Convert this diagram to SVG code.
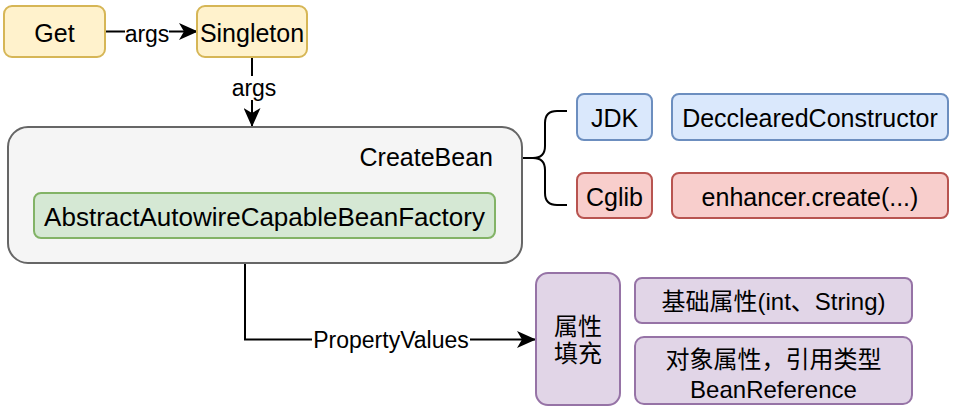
<svg xmlns="http://www.w3.org/2000/svg" width="961" height="414" viewBox="0 0 961 414">
<defs>
<marker id="arr" markerUnits="userSpaceOnUse" markerWidth="19" markerHeight="17" viewBox="0 0 19 17" refX="18" refY="8.5" orient="auto">
<path d="M0,0 L19,8.5 L0,17 L5,8.5 Z" fill="#000"/>
</marker>
<style>
text{font-family:"Liberation Sans","Noto Sans CJK SC",sans-serif;fill:#000;text-anchor:middle;dominant-baseline:central}
.n{font-size:25px}
.l{font-size:23px}
.c{font-size:24px}
.yel{fill:#fff2cc;stroke:#d6b656;stroke-width:2}
.gry{fill:#f5f5f5;stroke:#666666;stroke-width:2}
.grn{fill:#d5e8d4;stroke:#82b366;stroke-width:2}
.blu{fill:#dae8fc;stroke:#6c8ebf;stroke-width:2}
.red{fill:#f8cecc;stroke:#b85450;stroke-width:2}
.pur{fill:#e1d5e7;stroke:#9673a6;stroke-width:2}
.e{fill:none;stroke:#000;stroke-width:2}
.lb{fill:#fff;stroke:none}
</style>
</defs>
<rect width="961" height="414" fill="#fff"/>
<g id="connectors">
<path class="e" d="M105 31.5 H197" marker-end="url(#arr)"/>
<rect class="lb" x="125" y="22" width="44" height="24"/>
<text class="l" x="147" y="34">args</text>
<path class="e" d="M252 58 V126" marker-end="url(#arr)"/>
<rect class="lb" x="230" y="76" width="46" height="24"/>
<text class="l" x="254" y="88">args</text>
<path class="e" d="M245 264 V339.5 H535" marker-end="url(#arr)"/>
<rect class="lb" x="312" y="328" width="158" height="24"/>
<text class="l" x="391" y="340">PropertyValues</text>
<path class="e" d="M567 111 H557 Q545 111 545 123 V146 Q545 158 533 158 H523 M533 158 Q545 158 545 170 V193 Q545 205 557 205 H567"/>
</g>
<g id="get">
<rect class="yel" x="4" y="6" width="101" height="51" rx="8"/>
<text class="n" x="54.5" y="33">Get</text>
</g>
<g id="singleton">
<rect class="yel" x="197" y="6" width="110" height="51" rx="8"/>
<text class="n" x="252" y="33">Singleton</text>
</g>
<g id="createbean">
<rect class="gry" x="8" y="127" width="514" height="136" rx="20"/>
<text class="n" x="493" y="157" style="text-anchor:end">CreateBean</text>
</g>
<g id="factory">
<rect class="grn" x="34" y="193" width="461" height="45" rx="7"/>
<text class="n" x="264.5" y="217" style="font-size:26px">AbstractAutowireCapableBeanFactory</text>
</g>
<g id="jdk">
<rect class="blu" x="577" y="94" width="75" height="46" rx="7"/>
<text class="n" x="614.5" y="118">JDK</text>
</g>
<g id="ctor">
<rect class="blu" x="672" y="94" width="276" height="46" rx="7"/>
<text class="n" x="810" y="118">DecclearedConstructor</text>
</g>
<g id="cglib">
<rect class="red" x="577" y="173" width="75" height="45" rx="7"/>
<text class="n" x="614.5" y="197">Cglib</text>
</g>
<g id="enhancer">
<rect class="red" x="672" y="173" width="276" height="45" rx="7"/>
<text class="n" x="810" y="197">enhancer.create(...)</text>
</g>
<g id="fill">
<rect class="pur" x="536" y="273" width="84" height="132" rx="12"/>
<text class="c" x="578" y="326">属性</text>
<text class="c" x="578" y="353">填充</text>
</g>
<g id="basic">
<rect class="pur" x="635" y="278" width="277" height="45" rx="7"/>
<text class="c" x="773.5" y="301">基础属性(int、String)</text>
</g>
<g id="ref">
<rect class="pur" x="635" y="337" width="277" height="67" rx="9"/>
<text class="c" x="773.5" y="359">对象属性，引用类型</text>
<text class="c" x="773.5" y="389">BeanReference</text>
</g>
</svg>
